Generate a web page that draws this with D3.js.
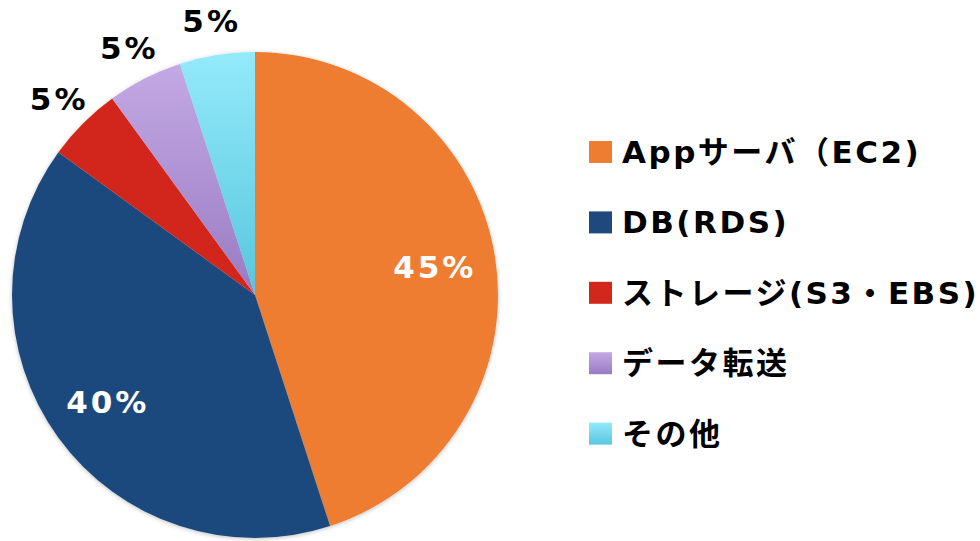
<!DOCTYPE html>
<html lang="ja">
<head>
    <meta charset="UTF-8">
    <title>コスト内訳</title>
    <script src="https://d3js.org/d3.v7.min.js"></script>
    <style>
        body { margin: 0; background: #fff; }
        text { font-family: "DejaVu Sans", "Noto Sans CJK JP", sans-serif; font-weight: bold; }
    </style>
</head>
<body>
    <svg id="chart"></svg>
    <script>
        // data
        var categories = ["Appサーバ（EC2)", "DB(RDS)", "ストレージ(S3・EBS)", "データ転送", "その他"];
        var values = [45, 40, 5, 5, 5];
        var colorsTop = ["#ee7d32", "#1f497d", "#d2281b", "#c3a9e4", "#93eafa"];
        var colorsBottom = ["#ee7d32", "#1f497d", "#d2281b", "#9a7bc3", "#58c6de"];

        var width = 980, height = 541;
        var cx = 255, cy = 295, radius = 243;

        var svg = d3.select("#chart")
            .attr("width", width)
            .attr("height", height);

        var defs = svg.append("defs");
        categories.forEach(function(c, i) {
            var g = defs.append("linearGradient")
                .attr("id", "grad" + i)
                .attr("x1", 0).attr("y1", 0).attr("x2", 0).attr("y2", 1);
            g.append("stop").attr("offset", "0%").attr("stop-color", colorsTop[i]);
            g.append("stop").attr("offset", "100%").attr("stop-color", colorsBottom[i]);
        });

        var shadow = defs.append("filter").attr("id", "shadow")
            .attr("x", "-10%").attr("y", "-10%").attr("width", "120%").attr("height", "120%");
        shadow.append("feDropShadow")
            .attr("dx", 0).attr("dy", 1).attr("stdDeviation", 2)
            .attr("flood-color", "#000").attr("flood-opacity", 0.25);

        var pie = d3.pie().sort(null).value(function(d) { return d; });
        var arcs = pie(values);

        var arc = d3.arc().innerRadius(0).outerRadius(radius);
        var innerLabel = d3.arc().innerRadius(182).outerRadius(182);
        var outerLabel = d3.arc().innerRadius(277).outerRadius(277);

        var g = svg.append("g")
            .attr("transform", "translate(" + cx + "," + cy + ")");

        var slices = g.append("g").attr("filter", "url(#shadow)");
        slices.selectAll("path")
            .data(arcs)
            .enter().append("path")
            .attr("d", arc)
            .attr("fill", function(d, i) { return "url(#grad" + i + ")"; });

        // percentage labels
        g.selectAll(".label")
            .data(arcs)
            .enter().append("text")
            .attr("class", "label")
            .attr("transform", function(d) {
                var big = d.value >= 10;
                var p = big ? innerLabel.centroid(d) : outerLabel.centroid(d);
                return "translate(" + p + ")";
            })
            .attr("text-anchor", "middle")
            .attr("dominant-baseline", "central")
            .attr("font-size", 31)
            .attr("letter-spacing", 3)
            .attr("fill", function(d) { return d.value >= 10 ? "#fff" : "#000"; })
            .text(function(d) { return d.value + "%"; });

        // legend
        var legend = svg.append("g")
            .attr("transform", "translate(589,141)");

        var row = d3.scaleBand()
            .domain(categories)
            .range([0, 352])
            .paddingInner(0);

        var item = legend.selectAll(".item")
            .data(categories)
            .enter().append("g")
            .attr("class", "item")
            .attr("transform", function(d) { return "translate(0," + row(d) + ")"; });

        item.append("rect")
            .attr("width", 23)
            .attr("height", 22)
            .attr("fill", function(d, i) { return "url(#grad" + i + ")"; });

        item.append("text")
            .attr("x", 33)
            .attr("y", 11)
            .attr("dominant-baseline", "central")
            .attr("font-size", 31)
            .attr("letter-spacing", 2.5)
            .attr("fill", "#000")
            .text(function(d) { return d; });
    </script>
</body>
</html>
